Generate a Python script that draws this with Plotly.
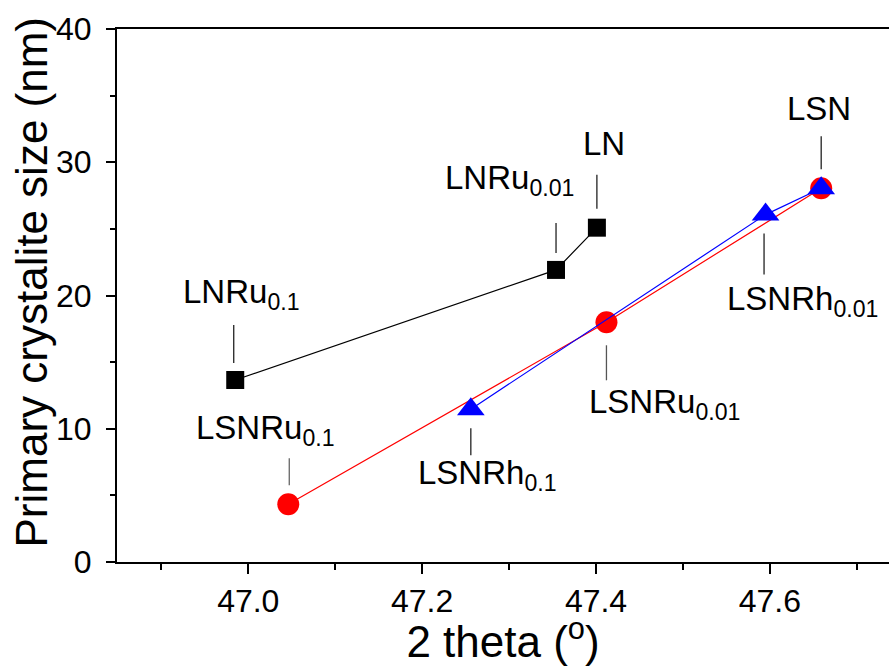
import plotly.graph_objects as go

# ---- data ----
ln_names = ["LNRu<sub>0.1</sub>", "LNRu<sub>0.01</sub>", "LN"]
ln_x = [46.985, 47.354, 47.401]
ln_y = [13.66, 21.92, 25.09]

lsnru_names = ["LSNRu<sub>0.1</sub>", "LSNRu<sub>0.01</sub>", "LSN"]
lsnru_x = [47.046, 47.412, 47.659]
lsnru_y = [4.33, 17.99, 28.05]

lsnrh_names = ["LSNRh<sub>0.1</sub>", "LSNRh<sub>0.01</sub>", "LSN"]
lsnrh_x = [47.256, 47.595, 47.659]
lsnrh_y = [11.47, 26.07, 28.05]

x_title = "2 theta (<sup>o</sup>)"
y_title = "Primary crystalite size (nm)"

FONT = "Liberation Sans, Arial, sans-serif"

fig = go.Figure()
fig.add_trace(go.Scatter(x=ln_x, y=ln_y, mode="lines+markers",
                         line=dict(color="black", width=1.2),
                         marker=dict(symbol="square", size=18, color="black", line=dict(width=0)),
                         showlegend=False))
fig.add_trace(go.Scatter(x=lsnru_x, y=lsnru_y, mode="lines+markers",
                         line=dict(color="#FF0000", width=1.2),
                         marker=dict(symbol="circle", size=22, color="#FF0000", line=dict(width=0)),
                         showlegend=False))
fig.add_trace(go.Scatter(x=lsnrh_x, y=lsnrh_y, mode="lines+markers",
                         line=dict(color="#0000FF", width=1.2),
                         marker=dict(symbol="triangle-up", size=24, color="#0000FF", line=dict(width=0)),
                         showlegend=False))

# label placement: (text, x, y, text dx, text dy (screen px, down +), line y0, line y1, line dx, line colour)
labels = [
    (ln_names[0], ln_x[0], ln_y[0], 6, -86, -55, -17, -1.5, "#222"),
    (ln_names[1], ln_x[1], ln_y[1], -47, -90, -47, -17, 0, "#222"),
    (ln_names[2], ln_x[2], ln_y[2], 7, -84, -53, -19, 0, "#222"),
    (lsnru_names[2], lsnru_x[2], lsnru_y[2], -2, -80, -52, -19, 0, "#222"),
    (lsnrh_names[1], lsnrh_x[1], lsnrh_y[1], 37, 86, 19, 60, -1.5, "#222"),
    (lsnru_names[1], lsnru_x[1], lsnru_y[1], 58, 82, 23, 58, 0, "#555"),
    (lsnru_names[0], lsnru_x[0], lsnru_y[0], -23, -74, -46, -19, 1, "#666"),
    (lsnrh_names[0], lsnrh_x[0], lsnrh_y[0], 17, 66, 19, 46, 0, "#222"),
]

for text, px, py, tdx, tdy, ly0, ly1, ldx, lc in labels:
    fig.add_annotation(x=px, y=py, xref="x", yref="y", text=text, showarrow=False,
                       xanchor="center", yanchor="middle", xshift=tdx, yshift=-tdy,
                       font=dict(family=FONT, size=33, color="black"))
    fig.add_shape(type="line", xref="x", yref="y",
                  xsizemode="pixel", xanchor=px, x0=ldx, x1=ldx,
                  ysizemode="pixel", yanchor=py, y0=-ly0, y1=-ly1,
                  line=dict(color=lc, width=1.3))

# y-axis title as a rotated annotation
fig.add_annotation(xref="paper", yref="paper", x=-0.111, y=0.525, text=y_title,
                   textangle=-90, showarrow=False, xanchor="center", yanchor="middle",
                   font=dict(family=FONT, size=44, color="black"))

fig.update_layout(
    width=889, height=666,
    margin=dict(l=117, r=0, t=29, b=104),
    paper_bgcolor="white", plot_bgcolor="white",
    font=dict(family=FONT, color="black"),
)
fig.update_xaxes(
    range=[46.849, 47.737], tick0=47.0, dtick=0.2, tickformat=".1f",
    showgrid=False, zeroline=False,
    showline=True, linecolor="black", linewidth=2, mirror=True,
    ticks="outside", ticklen=10, tickwidth=2, tickcolor="black",
    tickfont=dict(family=FONT, size=32, color="black"),
    ticklabelstandoff=0,
    minor=dict(dtick=0.1, tick0=47.0, ticks="outside", ticklen=6, tickwidth=2, tickcolor="black", showgrid=False),
    title=dict(text=x_title, font=dict(family=FONT, size=44, color="black"), standoff=12),
)
fig.update_yaxes(
    range=[0, 40], tick0=0, dtick=10,
    showgrid=False, zeroline=False,
    showline=True, linecolor="black", linewidth=2, mirror=False,
    ticks="outside", ticklen=9, tickwidth=2, tickcolor="black",
    tickfont=dict(family=FONT, size=32, color="black"),
    ticklabelstandoff=8,
    minor=dict(dtick=5, tick0=0, ticks="outside", ticklen=5, tickwidth=2, tickcolor="black", showgrid=False),
)

fig.write_html("out.html")
